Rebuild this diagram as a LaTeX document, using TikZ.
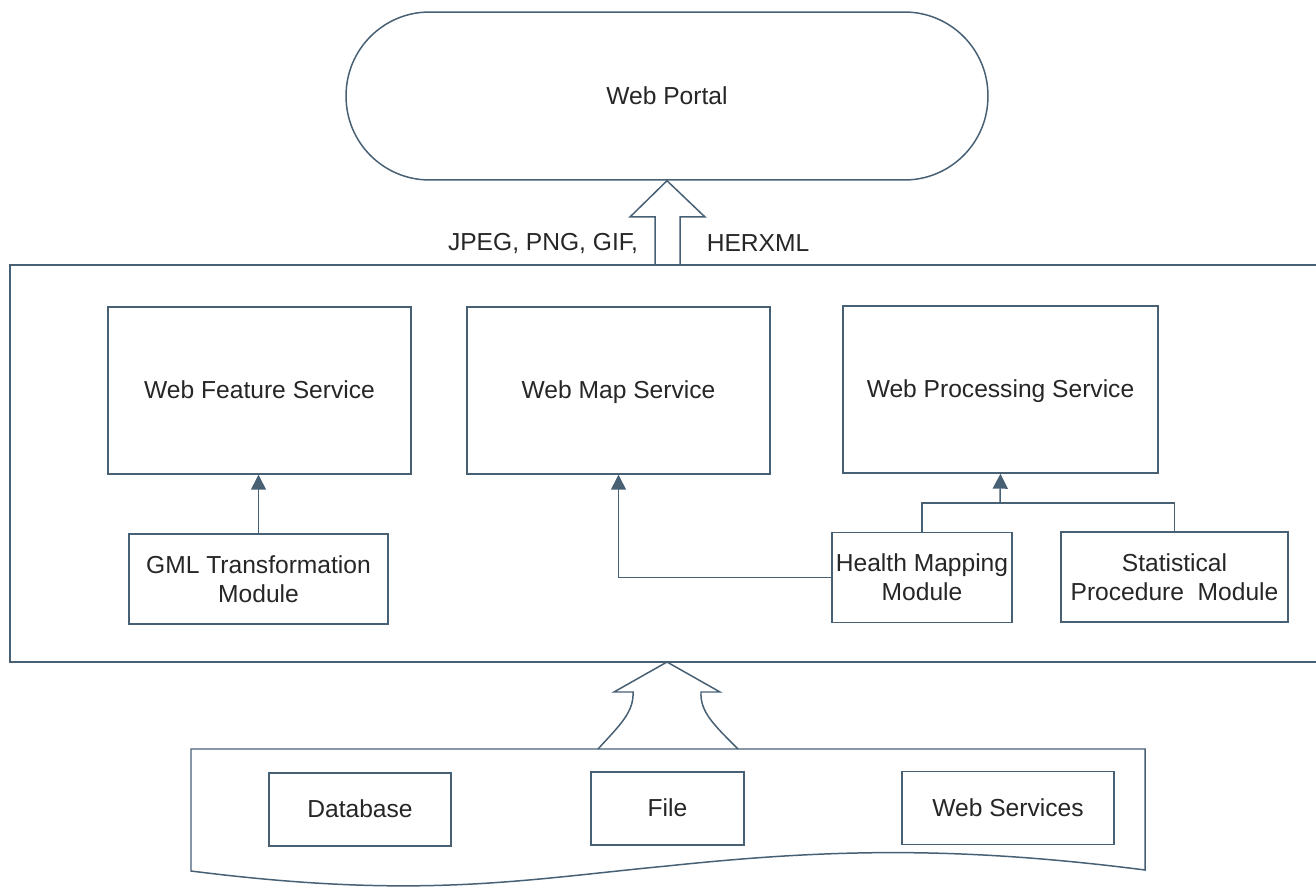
\documentclass[tikz,border=0pt]{standalone}
\usepackage{fontspec}
\setmainfont{Liberation Sans}
\usetikzlibrary{arrows.meta}
\definecolor{edgeblue}{RGB}{72,96,116}
\tikzstyle{outline} = [draw=edgeblue, line width=0.85pt]
\tikzstyle{servicebox} = [outline, minimum height=3.34cm, text height=1em, text depth=0.05em, inner sep=0pt]
\tikzstyle{modulebox} = [outline, minimum height=1.8cm, align=center, inner sep=0pt]
\tikzstyle{sourcebox} = [outline, minimum height=1.46cm, text height=1em, text depth=0.05em, inner sep=0pt]
\tikzstyle{arrow} = [draw=edgeblue, line width=0.85pt, -{Triangle[length=8.5pt, width=8.5pt]}]

\begin{document}
\begin{tikzpicture}[x=0.02cm, y=-0.02cm, font=\fontsize{14}{16.5}\selectfont, text=black!85]
\useasboundingbox (0,0) rectangle (1316,888);

%% portal
\node[outline, rounded corners=1.67cm, minimum width=12.84cm, minimum height=3.36cm] (portal) at (667,96) {Web Portal};
\draw[outline] (655,265) -- (655,217) -- (630,217) -- (portal.south) -- (705,217) -- (680,217) -- (680,265);
\node (formats) at (543,243) {JPEG, PNG, GIF,};
\node (herxml) at (758,243) {HERXML};

%% services
\draw[outline] (1316,265) -- (10,265) -- (10,662) -- (1316,662);
\node[servicebox, minimum width=6.06cm] (wfs) at (259.5,390.5) {Web Feature Service};
\node[servicebox, minimum width=6.06cm] (wms) at (618.5,390.5) {Web Map Service};
\node[servicebox, minimum width=6.3cm] (wps) at (1000.5,389.5) {Web Processing Service};

\node[modulebox, minimum width=5.18cm] (gml) at (258.5,579) {GML Transformation\\Module};
\node[modulebox, minimum width=3.6cm] (health) at (922,577.5) {Health Mapping\\Module};
\node[modulebox, minimum width=4.54cm] (stat) at (1174.5,577) {Statistical\\Procedure\ \ Module};

\draw[arrow] (gml.north) -- (gml.north |- wfs.south);
\draw[arrow] (health.west) -| (wms.south);
\coordinate (join) at (1000,503);
\draw[outline] (health.north) |- (stat.north |- join) -- (stat.north);
\draw[arrow] (join) -- (wps.south);

%% sources
\draw[outline] (598,749) .. controls (620,725) and (634,712) .. (633,692) -- (614,692) -- (667,662)
  -- (720,692) -- (701,692) .. controls (700,712) and (714,725) .. (738,749);
\draw[outline] (191,749) -- (1145,749) -- (1145,870) .. controls (950,845) and (820,850) .. (667,866)
  .. controls (520,880) and (420,900) .. (191,871) -- cycle;
\node[sourcebox, minimum width=3.64cm] (db) at (360,809.5) {Database};
\node[sourcebox, minimum width=3.06cm] (file) at (667.5,808.5) {File};
\node[sourcebox, minimum width=4.24cm] (websvc) at (1008,808) {Web Services};
\end{tikzpicture}
\end{document}
